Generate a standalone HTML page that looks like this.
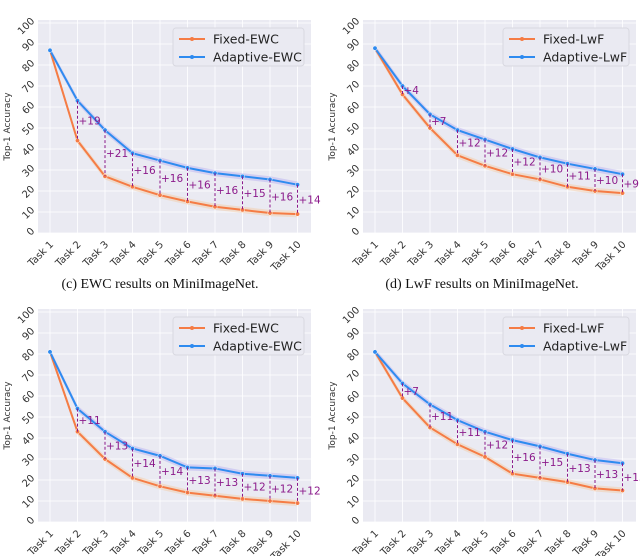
<!DOCTYPE html>
<html><head><meta charset="utf-8"><style>
body{margin:0;background:#fff;}
svg{display:block;font-family:"DejaVu Sans","Liberation Sans",sans-serif;}
.cap{font-family:"Liberation Serif",serif;font-size:14px;fill:#111;}
</style></head><body>
<svg id="c" width="640" height="556" viewBox="0 0 640 556"></svg>
<script>
const tasks=["Task 1","Task 2","Task 3","Task 4","Task 5","Task 6","Task 7","Task 8","Task 9","Task 10"];
const yTicks=[0,10,20,30,40,50,60,70,80,90,100];
const ewc1Fixed=[87,44,27,22,18,15,12.5,11,9.5,9];
const ewc1Adapt=[87,63,49,38,34.5,31,28.5,27,25.5,23];
const ewc1Gain=["+19","+21","+16","+16","+16","+16","+15","+16","+14"];
const lwf1Fixed=[88,66,50,37,32,28,25.5,22,20,19];
const lwf1Adapt=[88,70,56.5,49,44.5,40,36,33,30.5,28];
const lwf1Gain=["+4","+7","+12","+12","+12","+10","+11","+10","+9"];
const ewc2Fixed=[81,43,30,21,17,14,12.5,11,10,9];
const ewc2Adapt=[81,54,43,35,31.5,26,25.5,23,22,21];
const ewc2Gain=["+11","+13","+14","+14","+13","+13","+12","+12","+12"];
const lwf2Fixed=[81,59,45,37,31,23,21,19,16,15];
const lwf2Adapt=[81,66,56,48.5,43,39,36,32.5,29.5,28];
const lwf2Gain=["+7","+11","+11","+12","+16","+15","+13","+13","+13"];
const NS="http://www.w3.org/2000/svg";
const svg=document.getElementById('c');
function el(t,a,p){const e=document.createElementNS(NS,t);for(const k in a)e.setAttribute(k,a[k]);(p||svg).appendChild(e);return e;}
function panel(name,px,py,fixed,adapt,gain,l1,l2,bw){
  const g=el('g',{});
  
  
  const L=px,R=px+273,T=py,B=py+213;
  const x0=px+12,dx=(249-12)/9*1.0;
  const xs=i=>x0+i*27.5;
  const ys=v=>B-2.1*v;
  const bg=el('rect',{x:L,y:T,width:R-L,height:B-T,fill:'#eaeaf2'},g);
  
  
  yTicks.forEach(v=>{
    el('line',{x1:L,x2:R,y1:ys(v),y2:ys(v),stroke:'#fff','stroke-width':0.8},g);
    const t=el('text',{x:L-4,y:ys(v)+4,'font-size':10,fill:'#333','text-anchor':'end',transform:`rotate(-45 ${L-10} ${ys(v)})`},g);
    t.textContent=v;
    
    
  });
  tasks.forEach((s,i)=>{
    el('line',{x1:xs(i),x2:xs(i),y1:T,y2:B,stroke:'#fff','stroke-width':0.8},g);
    const t=el('text',{x:xs(i)+4,y:B+12,'font-size':10,fill:'#333','text-anchor':'end',transform:`rotate(-45 ${xs(i)+4} ${B+12})`},g);
    t.textContent=s;
    
    
  });
  const yl=el('text',{x:0,y:0,'font-size':9,fill:'#333','text-anchor':'middle',transform:`translate(${px-28},${(T+B)/2}) rotate(-90)`},g);
  yl.textContent='Top-1 Accuracy';
  
  
  function band(arr,col){
    const up=arr.map((v,i)=>`${xs(i)},${ys(v+1.5)}`),dn=arr.map((v,i)=>`${xs(i)},${ys(v-1.5)}`).reverse();
    el('polygon',{points:up.concat(dn).join(' '),fill:col,opacity:0.3},g);
  }
  band(fixed,'#f8b878');band(adapt,'#9c8ff0');
  function line(arr,col,nm){
    const p=el('polyline',{points:arr.map((v,i)=>`${xs(i)},${ys(v)}`).join(' '),fill:'none',stroke:col,'stroke-width':2},g);
    
    
    arr.forEach((v,i)=>el('circle',{cx:xs(i),cy:ys(v),r:2.2,fill:col,stroke:'#fff','stroke-width':0.5},g));
  }
  line(fixed,'#f57c45','fixed-line');
  line(adapt,'#2e8bf0','adaptive-line');
  gain.forEach((s,k)=>{
    const i=k+1;
    el('line',{x1:xs(i),x2:xs(i),y1:ys(adapt[i]),y2:ys(fixed[i]),stroke:'#8b1a8b','stroke-width':1,'stroke-dasharray':'3,2'},g);
    const t=el('text',{x:xs(i)+1,y:(ys(adapt[i])+ys(fixed[i]))/2+4,'font-size':10.5,fill:'#8b1a8b'},g);
    t.textContent=s;
    
    
  });
  const lg=el('g',{},g);
  
  
  const lx=R-bw-7;
  el('rect',{x:lx,y:T+8,width:bw,height:38,rx:3,fill:'#eaeaf2',stroke:'#d8d8e0'},lg);
  [[l1,'#f57c45',T+19],[l2,'#2e8bf0',T+37]].forEach(([s,c,y])=>{
    el('line',{x1:lx+6,x2:lx+32,y1:y,y2:y,stroke:c,'stroke-width':2},lg);
    el('circle',{cx:lx+19,cy:y,r:2,fill:c},lg);
    const t=el('text',{x:lx+40,y:y+4.5,'font-size':12.5,fill:'#222'},lg);
    t.textContent=s;
    
    
  });
}
panel('ewc-chart-top',38,20,ewc1Fixed,ewc1Adapt,ewc1Gain,'Fixed-EWC','Adaptive-EWC',131);
panel('lwf-chart-top',363,20,lwf1Fixed,lwf1Adapt,lwf1Gain,'Fixed-LwF','Adaptive-LwF',126);
panel('ewc-chart-bottom',38,309,ewc2Fixed,ewc2Adapt,ewc2Gain,'Fixed-EWC','Adaptive-EWC',131);
panel('lwf-chart-bottom',363,309,lwf2Fixed,lwf2Adapt,lwf2Gain,'Fixed-LwF','Adaptive-LwF',126);
[["(c) EWC results on MiniImageNet.",160,288,'caption-c'],["(d) LwF results on MiniImageNet.",482,288,'caption-d']].forEach(([s,x,y,n])=>{
  const t=el('text',{x:x,y:y,'text-anchor':'middle',class:'cap'});
  t.textContent=s;
  
  
});
</script>
</body></html>
